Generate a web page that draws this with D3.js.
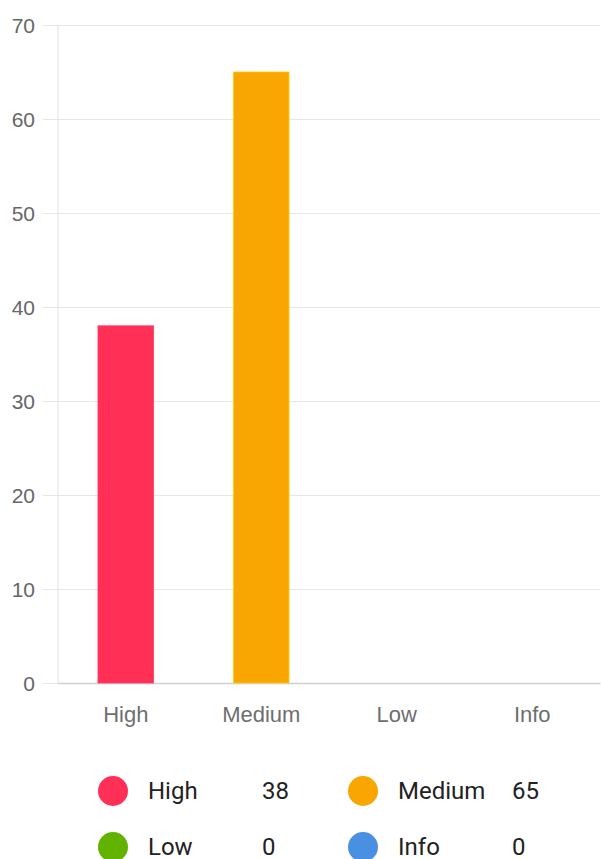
<!DOCTYPE html>
<html>
<head>
<meta charset="utf-8">
<script src="https://cdn.jsdelivr.net/npm/d3@7"></script>
<style>
  body { margin: 0; background: #fff; font-family: Roboto, "Noto Sans", sans-serif; }
</style>
</head>
<body>
<div id="chart"></div>
<script>
// Chart data
const categories = ['High', 'Medium', 'Low', 'Info'];
const counts = [38, 65, 0, 0];
const colors = ['#ff2f55', '#f9a602', '#62b300', '#4a90e2'];
const yTicks = [0, 10, 20, 30, 40, 50, 60, 70];

const width = 601;
const height = 859;
const margin = { top: 25, right: 1, left: 58, bottom: 176 };

const svg = d3.select('#chart')
    .append('svg')
    .attr('width', width)
    .attr('height', height);

const xScale = d3.scaleBand()
    .domain(categories)
    .range([margin.left, width - margin.right])
    .paddingInner(0.59)
    .paddingOuter(0.295);

const xLabels = d3.scaleBand()
    .domain(categories)
    .range([margin.left, width - margin.right]);

const yScale = d3.scaleLinear()
    .domain([0, 70])
    .range([height - margin.bottom, margin.top]);

// Gridlines with ticks on the left
const yAxis = d3.axisLeft(yScale)
    .tickValues(yTicks)
    .tickSize(-(width - margin.right - margin.left))
    .tickSizeOuter(0);

const gy = svg.append('g')
    .attr('transform', `translate(${margin.left}, 0)`)
    .call(yAxis);
gy.select('.domain').remove();
gy.selectAll('.tick line')
    .attr('x1', -15)
    .attr('stroke', '#e6e6e6');
gy.selectAll('.tick text')
    .attr('x', -23)
    .attr('dy', '0.36em')
    .attr('fill', '#666')
    .style('font-size', '21px')
    .style('font-family', '"Liberation Sans", Arial, sans-serif');

// Left axis line
svg.append('line')
    .attr('x1', margin.left).attr('x2', margin.left)
    .attr('y1', yScale(70)).attr('y2', yScale(0))
    .attr('stroke', '#e0e0e0');

// Bottom axis
const xAxis = d3.axisBottom(xLabels).tickSize(0).tickPadding(28);
const gx = svg.append('g')
    .attr('transform', `translate(0, ${yScale(0)})`)
    .call(xAxis);
gx.select('.domain').attr('stroke', '#d0d0d0').attr('stroke-width', 1.5);
gx.selectAll('.tick text')
    .attr('dy', '0.5em')
    .attr('fill', '#6e6e6e')
    .style('font-size', '22px')
    .style('font-family', '"Liberation Sans", Arial, sans-serif');

// Bars
svg.selectAll('.bar')
    .data(categories)
    .enter()
    .append('rect')
    .attr('class', 'bar')
    .attr('x', d => xScale(d))
    .attr('y', (d, i) => yScale(counts[i]))
    .attr('width', xScale.bandwidth())
    .attr('height', (d, i) => yScale(0) - yScale(counts[i]))
    .attr('fill', (d, i) => colors[i])
    .attr('stroke', (d, i) => d3.color(colors[i]).brighter(0.6))
    .attr('stroke-width', 1)
    .attr('stroke-opacity', (d, i) => counts[i] > 0 ? 0.8 : 0);

// Legend (bottom row is clipped by the frame, as in the original)
const legendCols = [113, 363];
const legendRows = [791, 847];
const legend = svg.selectAll('.legend')
    .data(categories)
    .enter()
    .append('g')
    .attr('class', 'legend')
    .attr('transform', (d, i) => `translate(${legendCols[i % 2]}, ${legendRows[Math.floor(i / 2)]})`);

legend.append('circle')
    .attr('r', 15)
    .attr('fill', (d, i) => colors[i]);

legend.append('text')
    .attr('x', 35)
    .attr('dy', '0.35em')
    .attr('fill', '#222')
    .style('font-size', '24px')
    .style('font-family', 'Roboto, sans-serif')
    .text(d => d);

legend.append('text')
    .attr('x', 149)
    .attr('dy', '0.35em')
    .attr('fill', '#222')
    .style('font-size', '24px')
    .style('font-family', 'Roboto, sans-serif')
    .text((d, i) => counts[i]);
</script>
</body>
</html>
